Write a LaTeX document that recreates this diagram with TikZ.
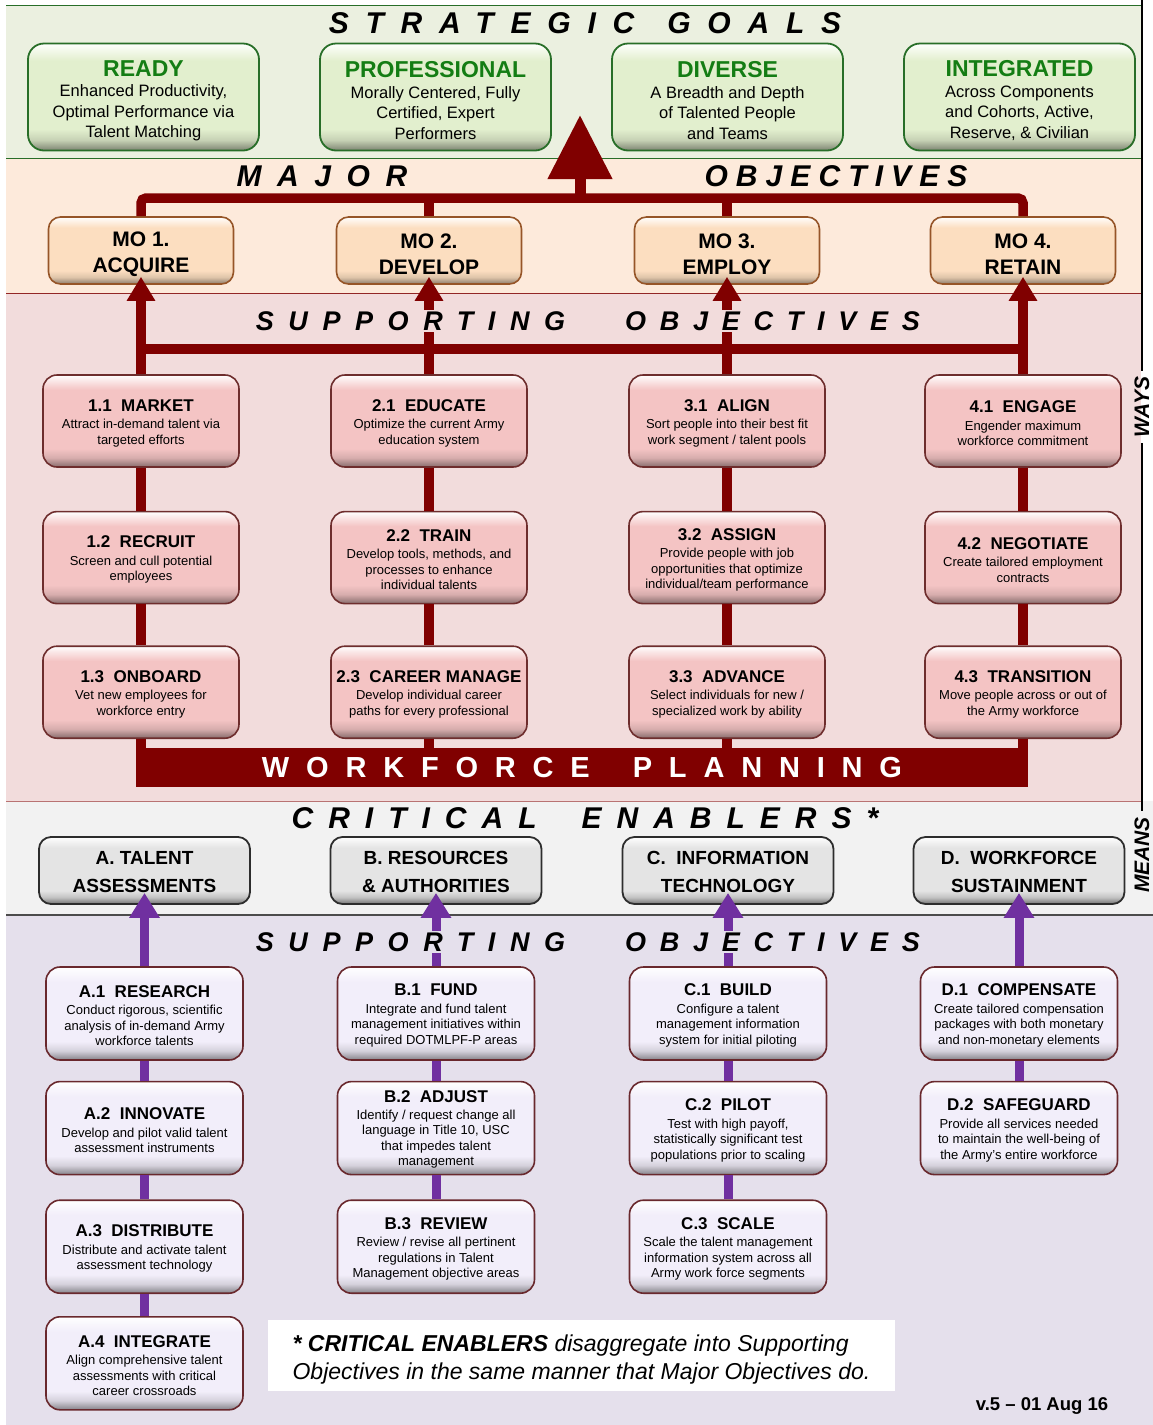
\documentclass[tikz,border=0pt]{standalone}
\usepackage{fontspec}
\setmainfont{Liberation Sans}
\usetikzlibrary{arrows.meta, positioning}

\definecolor{bandgreen}{RGB}{235,240,224}
\definecolor{bandpeach}{RGB}{253,234,219}
\definecolor{bandpink}{RGB}{242,220,220}
\definecolor{bandgray}{RGB}{242,242,242}
\definecolor{bandlav}{RGB}{229,224,236}
\definecolor{goalfill}{RGB}{226,239,206}
\definecolor{goalline}{RGB}{40,110,40}
\definecolor{goaltext}{RGB}{20,125,20}
\definecolor{mofill}{RGB}{252,222,192}
\definecolor{moline}{RGB}{150,85,40}
\definecolor{sofill}{RGB}{244,196,196}
\definecolor{soline}{RGB}{110,45,45}
\definecolor{cefill}{RGB}{228,228,228}
\definecolor{celine}{RGB}{45,45,45}
\definecolor{enfill}{RGB}{242,238,250}
\definecolor{enline}{RGB}{105,40,45}
\definecolor{wfred}{RGB}{128,0,0}
\definecolor{wpurple}{RGB}{112,48,160}

% bevelled box fills: dark lower edge, light upper edge
\pgfdeclareverticalshading{goalshade}{100bp}{color(0bp)=(goalfill!55!black); color(25bp)=(goalfill!55!black); color(30bp)=(goalfill!88!black); color(35bp)=(goalfill); color(67bp)=(goalfill); color(72bp)=(goalfill!40!white); color(75bp)=(white); color(100bp)=(white)}
\pgfdeclareverticalshading{moshade}{100bp}{color(0bp)=(mofill!55!black); color(25bp)=(mofill!55!black); color(30bp)=(mofill!88!black); color(35bp)=(mofill); color(67bp)=(mofill); color(72bp)=(mofill!40!white); color(75bp)=(white); color(100bp)=(white)}
\pgfdeclareverticalshading{soshade}{100bp}{color(0bp)=(sofill!55!black); color(25bp)=(sofill!55!black); color(30bp)=(sofill!88!black); color(35bp)=(sofill); color(67bp)=(sofill); color(72bp)=(sofill!40!white); color(75bp)=(white); color(100bp)=(white)}
\pgfdeclareverticalshading{ceshade}{100bp}{color(0bp)=(cefill!50!black); color(25bp)=(cefill!50!black); color(30bp)=(cefill!85!black); color(35bp)=(cefill); color(67bp)=(cefill); color(72bp)=(cefill!40!white); color(75bp)=(white); color(100bp)=(white)}
\pgfdeclareverticalshading{enshade}{100bp}{color(0bp)=(enfill!55!black); color(25bp)=(enfill!55!black); color(30bp)=(enfill!88!black); color(35bp)=(enfill); color(67bp)=(enfill); color(72bp)=(enfill!40!white); color(75bp)=(white); color(100bp)=(white)}

\begin{document}
\begin{tikzpicture}[x=1pt, y=-1pt,
    goalbox/.style={rectangle, draw=goalline, line width=1.8pt, rounded corners=16pt, shading=goalshade, minimum width=231pt, minimum height=107pt, align=center, font=\fontsize{16.5}{20.5}\selectfont},
    mobox/.style={rectangle, draw=moline, line width=1.6pt, rounded corners=12pt, shading=moshade, minimum width=185pt, minimum height=67pt, align=center, font=\fontsize{21}{26}\selectfont\bfseries},
    sobox/.style={rectangle, draw=soline, line width=1.6pt, rounded corners=14pt, shading=soshade, minimum width=196pt, minimum height=92pt, align=center, font=\fontsize{13}{15.5}\selectfont},
    cebox/.style={rectangle, draw=celine, line width=1.8pt, rounded corners=12pt, shading=ceshade, minimum width=211pt, minimum height=67pt, align=center, font=\fontsize{19}{28}\selectfont\bfseries},
    enbox/.style={sobox, draw=enline, shading=enshade, minimum width=197pt, minimum height=93pt},
    heading/.style={font=\fontsize{30}{34}\selectfont\bfseries\itshape\addfontfeature{LetterSpace=#1}, inner sep=1pt},
    subheading/.style={font=\fontsize{27}{31}\selectfont\bfseries\itshape\addfontfeature{LetterSpace=#1}, inner sep=1pt},
    sidelabel/.style={font=\fontsize{21}{24}\selectfont\bfseries\itshape, rotate=90, inner sep=6pt},
    redline/.style={draw=wfred, line width=9.5pt},
    redarrow/.style={redline, -{Triangle[width=27pt, length=24pt]}},
    purpleline/.style={draw=wpurple, line width=9pt},
    purplearrow/.style={purpleline, -{Triangle[width=29pt, length=25pt]}}
]
\useasboundingbox (0,0) rectangle (1153,1425);

% Background bands
\fill[bandgreen] (6,5) rectangle (1141,158);
\fill[bandpeach] (6,158) rectangle (1141,293);
\fill[bandpink] (6,293) rectangle (1141,801);
\fill[bandgray] (6,801) rectangle (1153,915);
\fill[bandlav] (6,915) rectangle (1153,1425);
\draw[goalline, line width=1pt] (6,5) -- (1141,5) (6,158) -- (1141,158);
\draw[wfred!85, line width=1pt] (6,293) -- (1141,293);
\draw[wfred!55, line width=1pt] (6,801) -- (1141,801);
\draw[black!70, line width=1.5pt] (6,915) -- (1153,915);

% Strategic goals
\node[goalbox] (ready) at (143.5,97) {\rule{0pt}{23.5pt}\textcolor{goaltext}{\fontsize{23}{26}\selectfont\textbf{READY}}\\ Enhanced Productivity,\\ Optimal Performance via\\ Talent Matching};
\node[goalbox] (professional) at (435.5,97) {\rule{0pt}{23.5pt}\textcolor{goaltext}{\fontsize{23}{26}\selectfont\textbf{PROFESSIONAL}}\\ Morally Centered, Fully\\ Certified, Expert\\ Performers};
\node[goalbox] (diverse) at (727.5,97) {\rule{0pt}{23.5pt}\textcolor{goaltext}{\fontsize{23}{26}\selectfont\textbf{DIVERSE}}\\ A Breadth and Depth\\ of Talented People\\ and Teams};
\node[goalbox] (integrated) at (1019.5,97) {\rule{0pt}{23.5pt}\textcolor{goaltext}{\fontsize{23}{26}\selectfont\textbf{INTEGRATED}}\\ Across Components\\ and Cohorts, Active,\\ Reserve, \& Civilian};

% Major objectives
\node[mobox] (acquire) at (141,250.5) {\rule{0pt}{22pt}MO 1.\\ ACQUIRE};
\node[mobox] (develop) at (429,250.5) {\rule{0pt}{22pt}MO 2.\\ DEVELOP};
\node[mobox] (employ) at (727,250.5) {\rule{0pt}{22pt}MO 3.\\ EMPLOY};
\node[mobox] (retain) at (1023,250.5) {\rule{0pt}{22pt}MO 4.\\ RETAIN};

% Supporting objectives (ways)
\node[sobox] (market) at (141,421) {\rule{0pt}{16.2pt}{\fontsize{17}{19}\selectfont\bfseries 1.1\ \ MARKET}\\[2pt] Attract in-demand talent via\\ targeted efforts};
\node[sobox, below=43pt of market] (recruit) {\rule{0pt}{16.2pt}{\fontsize{17}{19}\selectfont\bfseries 1.2\ \ RECRUIT}\\[2pt] Screen and cull potential\\ employees};
\node[sobox, below=41pt of recruit] (onboard) {\rule{0pt}{16.2pt}{\fontsize{17}{19}\selectfont\bfseries 1.3\ \ ONBOARD}\\[2pt] Vet new employees for\\ workforce entry};

\node[sobox] (educate) at (429,421) {\rule{0pt}{16.2pt}{\fontsize{17}{19}\selectfont\bfseries 2.1\ \ EDUCATE}\\[2pt] Optimize the current Army\\ education system};
\node[sobox, below=43pt of educate] (train) {\rule{0pt}{16.2pt}{\fontsize{17}{19}\selectfont\bfseries 2.2\ \ TRAIN}\\[2pt] Develop tools, methods, and\\ processes to enhance\\ individual talents};
\node[sobox, below=41pt of train] (career) {\rule{0pt}{16.2pt}{\fontsize{17}{19}\selectfont\bfseries 2.3\ \ CAREER MANAGE}\\[2pt] Develop individual career\\ paths for every professional};

\node[sobox] (align) at (727,421) {\rule{0pt}{16.2pt}{\fontsize{17}{19}\selectfont\bfseries 3.1\ \ ALIGN}\\[2pt] Sort people into their best fit\\ work segment\ /\ talent pools};
\node[sobox, below=43pt of align] (assign) {\rule{0pt}{16.2pt}{\fontsize{17}{19}\selectfont\bfseries 3.2\ \ ASSIGN}\\[2pt] Provide people with job\\ opportunities that optimize\\ individual/team performance};
\node[sobox, below=41pt of assign] (advance) {\rule{0pt}{16.2pt}{\fontsize{17}{19}\selectfont\bfseries 3.3\ \ ADVANCE}\\[2pt] Select individuals for new /\\ specialized\ work by ability};

\node[sobox] (engage) at (1023,421) {\rule{0pt}{16.2pt}{\fontsize{17}{19}\selectfont\bfseries 4.1\ \ ENGAGE}\\[2pt] Engender maximum\\ workforce commitment};
\node[sobox, below=43pt of engage] (negotiate) {\rule{0pt}{16.2pt}{\fontsize{17}{19}\selectfont\bfseries 4.2\ \ NEGOTIATE}\\[2pt] Create tailored employment\\ contracts};
\node[sobox, below=41pt of negotiate] (transition) {\rule{0pt}{16.2pt}{\fontsize{17}{19}\selectfont\bfseries 4.3\ \ TRANSITION}\\[2pt] Move people\ across or out of\\ the\ Army workforce};

% Workforce planning bar
\node[fill=wfred, minimum width=891.5pt, minimum height=39pt, inner sep=0pt, text=white, font=\fontsize{29}{31}\selectfont\bfseries\addfontfeature{LetterSpace=58}] (wfp) at (582,767.5) {WORKFORCE\hspace{43pt}PLANNING};

% Critical enablers (means)
\node[cebox] (talent) at (144.5,870.5) {\rule{0pt}{17pt}A. TALENT\\ ASSESSMENTS};
\node[cebox] (resources) at (436,870.5) {\rule{0pt}{17pt}B. RESOURCES\\ \& AUTHORITIES};
\node[cebox] (infotech) at (728,870.5) {\rule{0pt}{17pt}C.\ \ INFORMATION\\ TECHNOLOGY};
\node[cebox] (sustain) at (1019,870.5) {\rule{0pt}{17pt}D.\ \ WORKFORCE\\ SUSTAINMENT};

% Enabler supporting objectives
\node[enbox] (research) at (144.5,1013.5) {\rule{0pt}{16pt}{\fontsize{17}{19}\selectfont\bfseries A.1\ \ RESEARCH}\\[2pt] Conduct rigorous, scientific\\ analysis of in-demand Army\\ workforce talents};
\node[enbox, below=20pt of research] (innovate) {\rule{0pt}{16pt}{\fontsize{17}{19}\selectfont\bfseries A.2\ \ INNOVATE}\\[2pt] Develop and pilot valid talent\\ assessment instruments};
\node[enbox, below=24pt of innovate] (distribute) {\rule{0pt}{16pt}{\fontsize{17}{19}\selectfont\bfseries A.3\ \ DISTRIBUTE}\\[2pt] Distribute and activate talent\\ assessment technology};
\node[enbox, below=22pt of distribute] (integrate) {\rule{0pt}{16pt}{\fontsize{17}{19}\selectfont\bfseries A.4\ \ INTEGRATE}\\[2pt] Align comprehensive talent\\ assessments with critical\\ career crossroads};

\node[enbox] (fund) at (436,1013.5) {\rule{0pt}{16pt}{\fontsize{17}{19}\selectfont\bfseries B.1\ \ FUND}\\[2pt] Integrate and fund talent\\ management initiatives within\\ required DOTMLPF-P areas};
\node[enbox, below=20pt of fund] (adjust) {\rule{0pt}{15pt}{\fontsize{17}{19}\selectfont\bfseries B.2\ \ ADJUST}\\[1pt] Identify / request change all\\ language in Title 10, USC\\ that impedes talent\\ management};
\node[enbox, below=24pt of adjust] (review) {\rule{0pt}{16pt}{\fontsize{17}{19}\selectfont\bfseries B.3\ \ REVIEW}\\[2pt] Review / revise all pertinent\\ regulations in Talent\\ Management objective areas};

\node[enbox] (build) at (728,1013.5) {\rule{0pt}{16pt}{\fontsize{17}{19}\selectfont\bfseries C.1\ \ BUILD}\\[2pt] Configure a talent\\ management information\\ system for initial piloting};
\node[enbox, below=20pt of build] (pilot) {\rule{0pt}{16pt}{\fontsize{17}{19}\selectfont\bfseries C.2\ \ PILOT}\\[2pt] Test with high payoff,\\ statistically significant test\\ populations prior to scaling};
\node[enbox, below=24pt of pilot] (scale) {\rule{0pt}{16pt}{\fontsize{17}{19}\selectfont\bfseries C.3\ \ SCALE}\\[2pt] Scale the talent management\\ information system across all\\ Army work force segments};

\node[enbox] (compensate) at (1019,1013.5) {\rule{0pt}{16pt}{\fontsize{17}{19}\selectfont\bfseries D.1\ \ COMPENSATE}\\[2pt] Create tailored compensation\\ packages with both monetary\\ and non-monetary elements};
\node[enbox, below=20pt of compensate] (safeguard) {\rule{0pt}{16pt}{\fontsize{17}{19}\selectfont\bfseries D.2\ \ SAFEGUARD}\\[2pt] Provide all services needed\\ to maintain the well-being of\\ the Army's entire workforce};

% Connections: major objectives up to the goals
\coordinate (mobar) at (580,198);
\coordinate (goaltip) at (580,115);
\draw[redline, rounded corners=5pt] (acquire.north) |- (mobar) -| (retain.north);
\draw[redline] (develop.north) -- (develop.north |- mobar);
\draw[redline] (employ.north) -- (employ.north |- mobar);
\draw[redline, line width=11pt, -{Triangle[width=62pt, length=64pt]}] (mobar) -- (goaltip);

% Connections: supporting objectives up to the major objectives
\coordinate (sobar) at (580,349);
\draw[redline] (market.north |- sobar) -- (engage.north |- sobar);
\draw[redarrow] (market.north) -- ([yshift=8pt]acquire.south);
\draw[redarrow] (educate.north) -- ([yshift=8pt]develop.south);
\draw[redarrow] (align.north) -- ([yshift=8pt]employ.south);
\draw[redarrow] (engage.north) -- ([yshift=8pt]retain.south);
\draw[redline] (market.south) -- (recruit.north) (recruit.south) -- (onboard.north) (onboard.south) -- (onboard.south |- wfp.north);
\draw[redline] (educate.south) -- (train.north) (train.south) -- (career.north) (career.south) -- (career.south |- wfp.north);
\draw[redline] (align.south) -- (assign.north) (assign.south) -- (advance.north) (advance.south) -- (advance.south |- wfp.north);
\draw[redline] (engage.south) -- (negotiate.north) (negotiate.south) -- (transition.north) (transition.south) -- (transition.south |- wfp.north);

% Connections: enablers
\draw[purplearrow] (research.north) -- ([yshift=12pt]talent.south);
\draw[purplearrow] (fund.north) -- ([yshift=12pt]resources.south);
\draw[purplearrow] (build.north) -- ([yshift=12pt]infotech.south);
\draw[purplearrow] (compensate.north) -- ([yshift=12pt]sustain.south);
\draw[purpleline] (research.south) -- (innovate.north) (innovate.south) -- (distribute.north) (distribute.south) -- (integrate.north);
\draw[purpleline] (fund.south) -- (adjust.north) (adjust.south) -- (review.north);
\draw[purpleline] (build.south) -- (pilot.north) (pilot.south) -- (scale.north);
\draw[purpleline] (compensate.south) -- (safeguard.north);

% Headings, drawn last so they sit over the lines
\node[heading=56] (goalshead) at (585,23) {STRATEGIC\hspace{33pt}GOALS};
\node[heading=52] (majorhead) at (322,176) {MAJOR};
\node[heading=27] (mobjhead) at (836,176) {OBJECTIVES};
\node[subheading=54, fill=bandpink] (suphead) at (410.5,321) {SUPPORTING};
\node[subheading=51, fill=bandpink] (sobjhead) at (772.5,321) {OBJECTIVES};
\node[heading=50] (cehead) at (585,818) {CRITICAL\hspace{45pt}ENABLERS*};
\node[subheading=54, fill=bandlav] (esuphead) at (410.5,942) {SUPPORTING};
\node[subheading=51, fill=bandlav] (eobjhead) at (772.5,942) {OBJECTIVES};

% Ways / means side rule
\coordinate (linetop) at (1142,0);
\node[sidelabel] (ways) at (1142,407) {WAYS};
\node[sidelabel] (means) at (1142,855) {MEANS};
\draw[line width=2pt] (ways.east) -- (ways.east |- linetop);
\draw[line width=2pt] (ways.west) -- (means.east);

% Footnote
\node[fill=white, minimum width=627pt, minimum height=71pt, align=left, font=\fontsize{23}{28}\selectfont\itshape] (note) at (581.5,1355.5) {\rule{0pt}{25pt}\textbf{* CRITICAL ENABLERS} disaggregate into Supporting\\ Objectives in the same manner that Major Objectives do.};
\node[font=\fontsize{18.5}{20}\selectfont\bfseries] (version) at (1042,1406) {v.5 \textendash{} 01 Aug 16};

\end{tikzpicture}
\end{document}
